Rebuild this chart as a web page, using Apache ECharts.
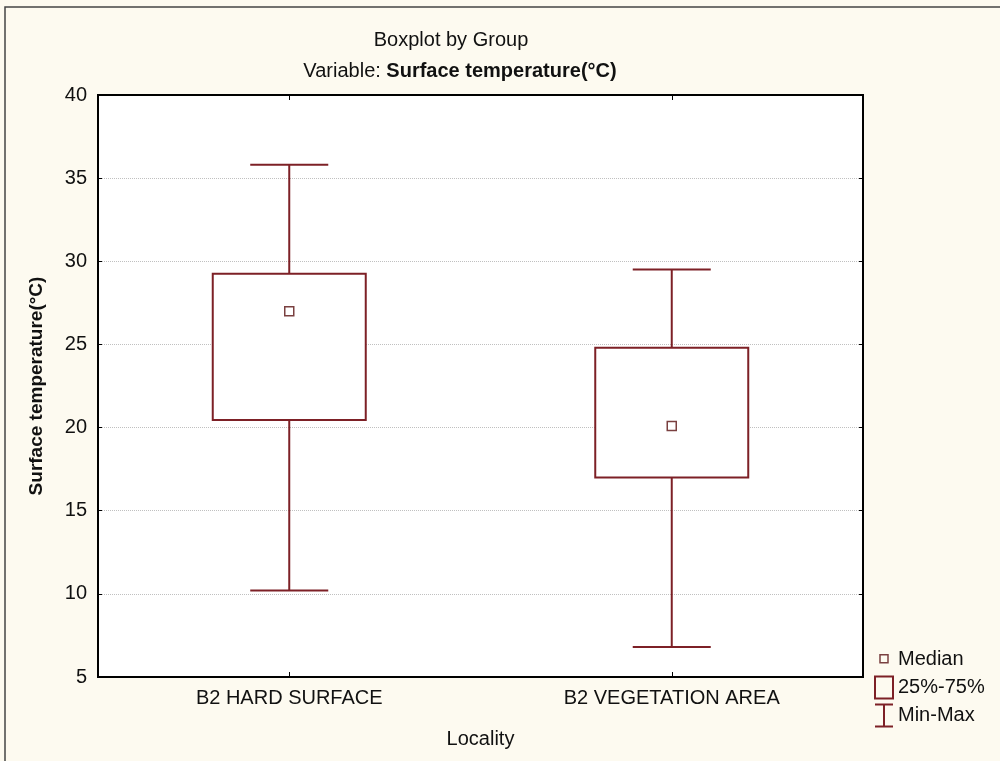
<!DOCTYPE html>
<html>
<head>
<meta charset="utf-8">
<script src="https://cdn.jsdelivr.net/npm/echarts@6/dist/echarts.min.js"></script>
<style>
  html, body { margin: 0; padding: 0; background: #fdfaf0; }
  #main { width: 1000px; height: 761px; }
</style>
</head>
<body>
<div id="main"></div>
<script>
// 数据
var categories = ['B2 HARD SURFACE', 'B2 VEGETATION AREA'];
var minValues = [10.2, 6.8];
var q1Values = [20.45, 17.0];
var medianValues = [27.0, 20.1];
var q3Values = [29.25, 24.8];
var maxValues = [35.8, 29.5];
var yMin = 5, yMax = 40, yStep = 5;

var boxColor = '#7d2026';
var fontFamily = "'Liberation Sans', Arial, sans-serif";

var rows = categories.map(function (c, i) {
  return [i, minValues[i], q1Values[i], medianValues[i], q3Values[i], maxValues[i]];
});

function whiskerItem(params, api) {
  var x = api.value(0);
  var lo = api.coord([x, api.value(1)]);
  var q1 = api.coord([x, api.value(2)]);
  var q3 = api.coord([x, api.value(4)]);
  var hi = api.coord([x, api.value(5)]);
  var half = api.size([1, 0])[0] * 0.102;
  var st = { stroke: boxColor, lineWidth: 2 };
  return {
    type: 'group',
    children: [
      { type: 'line', shape: { x1: hi[0], y1: hi[1], x2: q3[0], y2: q3[1] }, style: st },
      { type: 'line', shape: { x1: q1[0], y1: q1[1], x2: lo[0], y2: lo[1] }, style: st },
      { type: 'line', shape: { x1: hi[0] - half, y1: hi[1], x2: hi[0] + half, y2: hi[1] }, style: st },
      { type: 'line', shape: { x1: lo[0] - half, y1: lo[1], x2: lo[0] + half, y2: lo[1] }, style: st }
    ]
  };
}

function boxItem(params, api) {
  var x = api.value(0);
  var q1 = api.coord([x, api.value(2)]);
  var q3 = api.coord([x, api.value(4)]);
  var w = api.size([1, 0])[0] * 0.4;
  return {
    type: 'rect',
    shape: { x: q3[0] - w / 2, y: q3[1], width: w, height: q1[1] - q3[1] },
    style: { fill: '#fff', stroke: boxColor, lineWidth: 2 }
  };
}

function medianItem(params, api) {
  var x = api.value(0);
  var m = api.coord([x, api.value(3)]);
  var s = 9;
  return {
    type: 'rect',
    shape: { x: m[0] - s / 2, y: m[1] - s / 2, width: s, height: s },
    style: { fill: '#fff', stroke: '#7a4040', lineWidth: 1.5 }
  };
}

var chart = echarts.init(document.getElementById('main'));
var option = {
  backgroundColor: '#fdfaf0',
  animation: false,
  title: [{
    text: 'Boxplot by Group',
    left: 446, top: 25, textAlign: 'center',
    textStyle: { fontSize: 20, fontWeight: 'normal', color: '#111', fontFamily: fontFamily }
  }, {
    text: 'Variable: {b|Surface temperature(°C)}',
    left: 455, top: 56, textAlign: 'center',
    textStyle: {
      fontSize: 20, fontWeight: 'normal', color: '#111', fontFamily: fontFamily,
      rich: { b: { fontSize: 20, fontWeight: 'bold', color: '#111', fontFamily: fontFamily } }
    }
  }],
  legend: {
    orient: 'vertical',
    left: 874, top: 648,
    itemWidth: 18, itemHeight: 22, itemGap: 4,
    padding: 0,
    selectedMode: false,
    textStyle: { fontSize: 20, color: '#111', fontFamily: fontFamily },
    data: [
      { name: 'Median', icon: 'path://M0,0M18,22M5,6H13V14H5Z',
        itemStyle: { color: 'rgba(0,0,0,0)', borderColor: '#7a4040', borderWidth: 1.5 } },
      { name: '25%-75%', icon: 'path://M0,0H18V22H0Z',
        itemStyle: { color: 'rgba(0,0,0,0)', borderColor: boxColor, borderWidth: 2 } },
      { name: 'Min-Max', icon: 'path://M0,0H18M9,0V22M0,22H18',
        itemStyle: { color: 'rgba(0,0,0,0)', borderColor: boxColor, borderWidth: 2 } }
    ]
  },
  grid: {
    left: 98, right: 137, top: 95, bottom: 84,
    show: true, backgroundColor: '#fff', borderColor: '#000', borderWidth: 2
  },
  xAxis: [{
    type: 'category',
    data: categories,
    position: 'bottom',
    name: 'Locality',
    nameLocation: 'middle',
    nameGap: 52,
    nameTextStyle: { fontSize: 20, color: '#111', fontFamily: fontFamily },
    axisLine: { show: true, lineStyle: { color: '#000', width: 2 } },
    axisTick: { show: true, inside: true, alignWithLabel: true, length: 5, lineStyle: { color: '#000' } },
    axisLabel: { fontSize: 20, color: '#111', margin: 11, fontFamily: fontFamily },
    splitLine: { show: false }
  }, {
    type: 'category',
    data: categories,
    position: 'top',
    axisLine: { show: true, lineStyle: { color: '#000', width: 2 } },
    axisTick: { show: true, inside: true, alignWithLabel: true, length: 5, lineStyle: { color: '#000' } },
    axisLabel: { show: false },
    splitLine: { show: false }
  }],
  yAxis: [{
    type: 'value',
    min: yMin, max: yMax, interval: yStep,
    name: 'Surface temperature(°C)',
    nameLocation: 'middle',
    nameGap: 52,
    nameTextStyle: { fontSize: 19, fontWeight: 'bold', color: '#111', fontFamily: fontFamily },
    axisLine: { show: true, lineStyle: { color: '#000', width: 2 } },
    axisTick: { show: true, inside: true, length: 4, lineStyle: { color: '#000' } },
    axisLabel: { fontSize: 20, color: '#111', margin: 11, fontFamily: fontFamily },
    splitLine: { show: true, lineStyle: { color: '#c0c0c0', type: 'dotted', width: 1 } }
  }, {
    type: 'value',
    min: yMin, max: yMax, interval: yStep,
    position: 'right',
    axisLine: { show: true, lineStyle: { color: '#000', width: 2 } },
    axisTick: { show: true, inside: true, length: 4, lineStyle: { color: '#000' } },
    axisLabel: { show: false },
    splitLine: { show: false }
  }],
  series: [{
    name: 'Min-Max',
    type: 'custom',
    renderItem: whiskerItem,
    encode: { x: 0, y: [1, 2, 3, 4, 5] },
    itemStyle: { color: boxColor },
    data: rows,
    z: 2
  }, {
    name: '25%-75%',
    type: 'custom',
    renderItem: boxItem,
    encode: { x: 0, y: [1, 2, 3, 4, 5] },
    itemStyle: { color: boxColor },
    data: rows,
    z: 3
  }, {
    name: 'Median',
    type: 'custom',
    renderItem: medianItem,
    encode: { x: 0, y: [1, 2, 3, 4, 5] },
    itemStyle: { color: '#7a4040' },
    data: rows,
    z: 4
  }],
  graphic: [{
    type: 'rect',
    shape: { x: 5, y: 7, width: 1100, height: 900 },
    style: { fill: 'none', stroke: '#444', lineWidth: 1.5 },
    silent: true,
    z: 100
  }]
};
chart.setOption(option);
window.onresize = chart.resize;
</script>
</body>
</html>
